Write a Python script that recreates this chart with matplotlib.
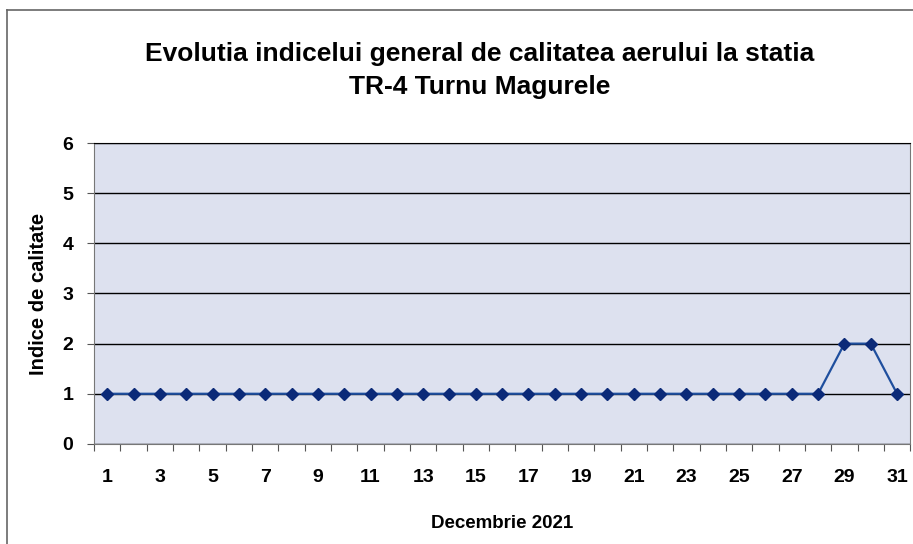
import matplotlib
matplotlib.use('Agg')
import matplotlib.pyplot as plt
from matplotlib.ticker import FixedLocator, NullFormatter

plt.rcParams['font.family'] = ['Liberation Sans', 'DejaVu Sans']

# data for decembrie 2021
days = list(range(1, 32))
indice = [1] * 28 + [2, 2, 1]

title = u'Evolutia indicelui general de calitatea aerului la statia\nTR-4 Turnu Magurele'

fig = plt.figure(figsize=(9.13, 5.44), dpi=100)
ax = fig.add_axes([0.103, 0.184, 0.894, 0.553])
ax.set_facecolor('#dde1ef')

pos = list(range(len(days)))
ax.plot(pos, indice, color='#1f4f9e', linewidth=1.6, marker='D',
        markersize=6, markerfacecolor='#0b2a78', markeredgecolor='#0b2a78', zorder=3)

ax.set_xlim(-0.5, len(days) - 0.5)
ax.set_ylim(0, 6)
ax.set_yticks(range(0, 7))
ax.yaxis.grid(True, color='black', linewidth=1)
ax.set_axisbelow(True)

# tick marks between the categories, labels for odd days
ax.xaxis.set_major_locator(FixedLocator([p - 0.5 for p in range(len(days) + 1)]))
ax.xaxis.set_major_formatter(NullFormatter())
ax.xaxis.set_minor_locator(FixedLocator(pos[::2]))
ax.set_xticklabels([str(d) for d in days[::2]], minor=True)
ax.tick_params(axis='x', which='major', length=5, color='#555555', direction='out')
ax.tick_params(axis='x', which='minor', length=0, pad=18, labelsize=14)
ax.tick_params(axis='y', length=5, color='#555555', pad=10, labelsize=14)
for lab in ax.get_xticklabels(minor=True) + ax.get_yticklabels():
    lab.set_fontweight('bold')

for s in ['left', 'bottom', 'right']:
    ax.spines[s].set_color('#777777')
ax.spines['top'].set_color('black')

ax.set_xlabel(u'Decembrie 2021', fontsize=13.5, fontweight='bold', labelpad=21)
ax.set_ylabel(u'Indice de calitate', fontsize=14.5, fontweight='bold', labelpad=10)

fig.text(0.525, 0.87, title, ha='center', va='center', fontsize=19,
         fontweight='bold', linespacing=1.5)

# chart frame (top and left edge visible in the scan)
fig.add_artist(plt.Line2D([0.008, 1.0], [0.982, 0.982], color='#666666', linewidth=1.2))
fig.add_artist(plt.Line2D([0.008, 0.008], [0.0, 0.982], color='#666666', linewidth=1.2))

fig.savefig('out.png', dpi=100)
